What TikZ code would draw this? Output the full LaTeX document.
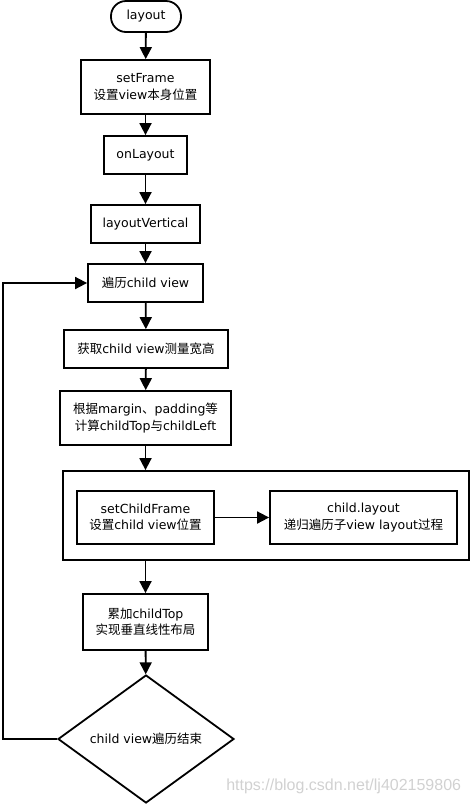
\documentclass[tikz,border=0pt]{standalone}
\usepackage{fontspec}
\setmainfont{DejaVu Sans}
\newfontfamily\zh{Noto Sans CJK SC}
\newfontfamily\wmfont{Liberation Sans}
\usetikzlibrary{shapes.geometric,arrows.meta}
\begin{document}
\begin{tikzpicture}[x=1pt,y=-1pt,line width=1.8pt,
  box/.style={draw,line width=1.8pt,align=center,inner sep=0pt,font=\fontsize{12.5}{16.5}\selectfont},
  arr/.style={-{Triangle[length=12pt,width=12pt]}},
  link/.style={line width=1.8pt}]
\useasboundingbox (0,0) rectangle (471,804);
\node[box,rounded corners=15pt,minimum width=70pt,minimum height=31pt] (layout) at (146,16.5) {layout};
\node[box,minimum width=129pt,minimum height=54pt] (setframe) at (145.5,87) {setFrame\\{\zh 设置}view{\zh 本身位置}};
\node[box,minimum width=83pt,minimum height=38pt] (onlayout) at (145.5,155) {onLayout};
\node[box,minimum width=109pt,minimum height=38pt] (vertical) at (145.5,224) {layoutVertical};
\node[box,minimum width=115pt,minimum height=38pt] (traverse) at (145.5,283) {{\zh 遍历}child view};
\node[box,minimum width=164pt,minimum height=38pt] (measure) at (146,349) {{\zh 获取}child view{\zh 测量宽高}};
\node[box,minimum width=171pt,minimum height=54pt] (calc) at (145.5,418) {{\zh 根据}margin{\zh 、}padding{\zh 等}\\{\zh 计算}childTop{\zh 与}childLeft};
\node[box,minimum width=406pt,minimum height=89pt] (group) at (266,515.5) {};
\node[box,minimum width=137pt,minimum height=53pt] (setchild) at (145.5,517.5) {setChildFrame\\{\zh 设置}child view{\zh 位置}};
\node[box,minimum width=187pt,minimum height=53pt] (childlayout) at (363.5,517.5) {child.layout\\{\zh 递归遍历子}view layout{\zh 过程}};
\node[box,minimum width=125pt,minimum height=56pt] (accum) at (145.5,622) {{\zh 累加}childTop\\{\zh 实现垂直线性布局}};
\node[box,diamond,minimum width=176pt,minimum height=128pt] (done) at (146,739) {child view{\zh 遍历结束}};
\node[text=black!18,font=\wmfont\fontsize{16}{18}\selectfont,anchor=east,inner sep=0pt] (wm) at (462,786) {https://blog.csdn.net/lj402159806};
\coordinate (loop) at (3,739);
\draw[link,arr] (layout) -- (setframe);
\draw[link,arr] (setframe) -- (onlayout);
\draw[link,arr] (onlayout) -- (vertical);
\draw[link,arr] (vertical) -- (traverse);
\draw[link,arr] (traverse) -- (measure);
\draw[link,arr] (measure) -- (calc);
\draw[link,arr] (calc.south) -- (calc.south |- group.north);
\draw[link,arr] (setchild) -- (childlayout);
\draw[link,arr] (accum.north |- group.south) -- (accum.north);
\draw[link,arr] (accum) -- (done);
\draw[link,arr] (done.west) -- (loop) |- (traverse.west);
\end{tikzpicture}
\end{document}
